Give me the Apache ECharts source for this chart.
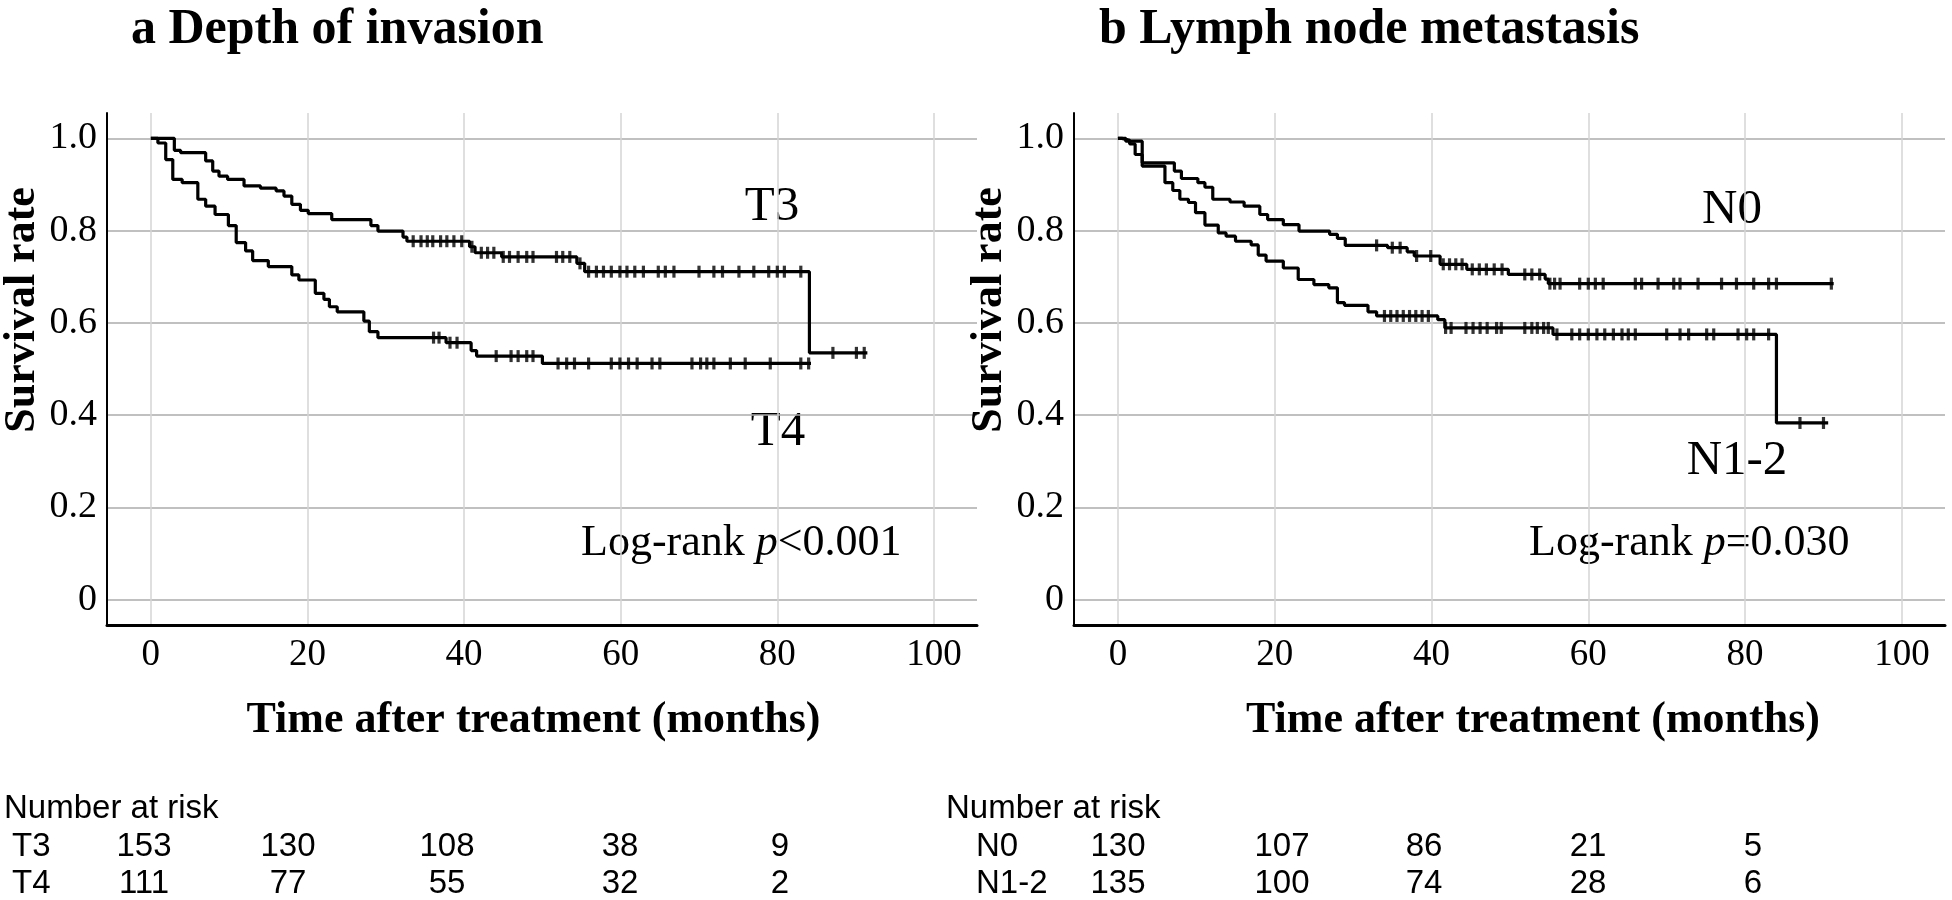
<!DOCTYPE html>
<html>
<head>
<meta charset="utf-8">
<script src="https://cdn.jsdelivr.net/npm/echarts@6/dist/echarts.min.js"></script>
<style>
html,body{margin:0;padding:0;background:#fff;}
#c{width:1952px;height:900px;}
</style>
</head>
<body>
<div id="c"></div>
<script>
// ---------------- DATA ----------------
const xTicks = [0, 20, 40, 60, 80, 100];
const yTicks = [0, 0.2, 0.4, 0.6, 0.8, 1.0];

// Kaplan-Meier step points [month, survival]
const stepsT3 = [[0,1.0],[3.0,0.974],[3.8,0.969],[7.0,0.951],[7.9,0.929],[8.7,0.918],[9.8,0.911],[11.9,0.897],[14.0,0.892],[16.0,0.886],[17.0,0.875],[18.0,0.857],[19.1,0.844],[20.1,0.837],[23.1,0.824],[28.1,0.811],[29.0,0.799],[32.2,0.786],[32.7,0.777],[40.7,0.765],[41.4,0.752],[44.8,0.743],[54.4,0.729],[55.4,0.711],[84.1,0.535]];
const endT3 = 91.5;
const censT3 = [33.5,34.5,35.3,36.0,37.0,37.8,38.7,39.7,41.0,42.2,43.0,43.8,45.0,45.8,46.9,48.0,48.8,51.8,52.6,53.5,54.8,55.9,56.9,57.8,58.8,59.9,60.8,61.8,62.9,64.8,65.7,66.8,70.0,71.9,73.0,75.1,77.0,78.9,80.0,80.9,83.0,87.1,90.1,91.1];

const stepsT4 = [[0,1.0],[0.9,0.99],[1.9,0.954],[2.8,0.911],[4.0,0.904],[6.0,0.868],[7.0,0.853],[8.2,0.835],[9.9,0.811],[10.9,0.774],[12.1,0.756],[13.0,0.735],[15.0,0.722],[18.0,0.704],[18.9,0.693],[21.0,0.664],[22.1,0.651],[22.8,0.635],[23.8,0.624],[27.2,0.604],[27.9,0.581],[29.0,0.568],[37.7,0.557],[40.9,0.540],[41.6,0.528],[50.0,0.512]];
const endT4 = 84.3;
const censT4 = [36.1,36.8,38.2,39.1,44.1,46.0,46.9,48.0,48.8,52.0,53.1,54.1,55.9,58.8,59.9,61.0,62.1,64.0,65.0,69.1,70.2,71.0,71.9,74.0,75.9,79.1,83.0,84.0];

const stepsN0 = [[0,1.0],[1.0,0.994],[3.1,0.947],[7.2,0.929],[8.1,0.913],[10.2,0.904],[11.1,0.894],[12.1,0.868],[14.3,0.862],[16.1,0.853],[18.1,0.835],[19.1,0.824],[21.1,0.813],[23.1,0.799],[27.0,0.792],[28.0,0.783],[29.0,0.768],[34.4,0.763],[36.9,0.754],[37.8,0.745],[41.1,0.727],[44.5,0.716],[49.8,0.705],[54.5,0.695],[54.9,0.685]];
const endN0 = 91.3;
const censN0 = [33.0,35.0,36.0,38.1,39.9,41.5,42.3,43.1,43.9,45.2,46.1,47.0,48.0,49.0,51.9,52.8,53.8,55.1,55.7,56.4,58.9,60.0,60.9,61.9,66.0,66.8,68.9,70.9,71.7,74.0,77.0,78.9,81.1,83.0,84.0,91.0];

const stepsN12 = [[0,1.0],[0.5,0.996],[1.5,0.988],[2.2,0.965],[3.1,0.94],[6.0,0.904],[7.0,0.887],[7.9,0.868],[9.0,0.861],[9.9,0.839],[11.1,0.812],[12.8,0.795],[13.8,0.788],[15.0,0.777],[17.0,0.769],[17.9,0.747],[18.9,0.734],[21.1,0.719],[23.0,0.694],[25.0,0.683],[26.9,0.676],[28.0,0.644],[28.9,0.638],[31.9,0.624],[33.0,0.615],[40.8,0.607],[41.7,0.589],[55.5,0.575],[84.0,0.383]];
const endN12 = 90.6;
const censN12 = [34.0,34.8,35.6,36.4,37.2,38.0,38.8,39.6,41.8,42.5,44.4,45.3,46.2,47.1,48.3,48.9,51.9,52.8,53.5,54.3,54.9,56.0,57.9,58.9,60.0,61.1,62.1,63.2,64.3,65.1,66.0,70.0,71.7,72.8,75.1,76.0,79.1,80.2,81.1,83.0,87.0,90.0];

// Number at risk
const riskLabelsA = ['T3', 'T4'];
const riskT3 = [153, 130, 108, 38, 9];
const riskT4 = [111, 77, 55, 32, 2];
const riskLabelsB = ['N0', 'N1-2'];
const riskN0 = [130, 107, 86, 21, 5];
const riskN12 = [135, 100, 74, 28, 6];

const titleA = 'a Depth of invasion';
const titleB = 'b Lymph node metastasis';
const xName = 'Time after treatment (months)';
const yName = 'Survival rate';
const pA = '<0.001';
const pB = '=0.030';

// ---------------- HELPERS ----------------
const SERIF = "'Liberation Serif','Times New Roman',serif";
const SANS = "'Liberation Sans',Arial,sans-serif";

function stepData(steps, end) {
  return steps.concat([[end, steps[steps.length - 1][1]]]);
}
function survAt(steps, t) {
  let s = steps[0][1];
  for (const [x, v] of steps) { if (x <= t) s = v; else break; }
  return s;
}
function censData(steps, cens) {
  return cens.map(t => [t, survAt(steps, t)]);
}

const xMin = -5.6, xMax = 105.5, yMin = -0.055, yMax = 1.055;

function xAxis(gi, pad) {
  return {
    type: 'value', gridIndex: gi, min: xMin, max: xMax,
    axisLine: { show: true, onZero: false, lineStyle: { color: '#000', width: 3 } },
    axisTick: { show: false, customValues: xTicks },
    axisLabel: { customValues: xTicks, fontFamily: SERIF, fontSize: 37, color: '#000', margin: 12 },
    splitLine: { show: true, lineStyle: { color: '#d4d4d4', width: 1.5 } },
    name: xName, nameLocation: 'middle', nameGap: 74,
    nameTextStyle: { fontFamily: SERIF, fontWeight: 'bold', fontSize: 44, color: '#000', padding: pad }
  };
}
function yAxis(gi) {
  return {
    type: 'value', gridIndex: gi, min: yMin, max: yMax,
    axisLine: { show: true, onZero: false, lineStyle: { color: '#000', width: 2 } },
    axisTick: { show: false, customValues: yTicks },
    axisLabel: { customValues: yTicks, fontFamily: SERIF, fontSize: 38, color: '#000', margin: 10,
      formatter: v => (v === 0 ? '0' : v.toFixed(1)) },
    splitLine: { show: true, lineStyle: { color: '#ababab', width: 1.5 } },
    name: yName, nameLocation: 'middle', nameGap: 62,
    nameTextStyle: { fontFamily: SERIF, fontWeight: 'bold', fontSize: 44, color: '#000', padding: [0, 0, 0, 118] }
  };
}
function lineSeries(gi, steps, end) {
  return {
    type: 'line', xAxisIndex: gi, yAxisIndex: gi, step: 'end', showSymbol: false, symbol: 'none',
    data: stepData(steps, end), lineStyle: { color: '#000', width: 3.2 }, z: 3, silent: true
  };
}
function censSeries(gi, steps, cens) {
  return {
    type: 'scatter', xAxisIndex: gi, yAxisIndex: gi, symbol: 'rect', symbolSize: [3.2, 12],
    data: censData(steps, cens), itemStyle: { color: '#000' }, z: 4, silent: true
  };
}
function txt(x, y, text, size, opts) {
  opts = opts || {};
  return {
    type: 'text', x: x, y: y, silent: true,
    style: Object.assign({
      text: text, fill: '#000', fontSize: size, fontFamily: opts.family || SERIF,
      fontWeight: opts.weight || 'normal',
      align: opts.align || 'center', verticalAlign: 'middle',
      textAlign: opts.align || 'center', textVerticalAlign: 'middle'
    }, opts.extra || {})
  };
}
function logRank(x, y, p) {
  return {
    type: 'text', x: x, y: y, silent: true,
    style: {
      text: '{n|Log-rank }{i|p}{n|' + p + '}',
      align: 'left', verticalAlign: 'middle', textAlign: 'left', textVerticalAlign: 'middle',
      rich: {
        n: { fontFamily: SERIF, fontSize: 44, fill: '#000', color: '#000' },
        i: { fontFamily: SERIF, fontSize: 44, fontStyle: 'italic', fill: '#000', color: '#000' }
      }
    }
  };
}

// Risk table layout
const colsA = [144, 288, 447, 620, 780];
const colsB = [1118, 1282, 1424, 1588, 1753];
const rowY = [809, 847, 884];
const graphics = [];
function riskTable(left, labelX, cols, labels, rows) {
  graphics.push(txt(left, rowY[0], 'Number at risk', 33, { family: SANS, align: 'left' }));
  rows.forEach((vals, r) => {
    graphics.push(txt(labelX, rowY[r + 1], labels[r], 33, { family: SANS, align: 'left' }));
    vals.forEach((v, i) => graphics.push(txt(cols[i], rowY[r + 1], String(v), 33, { family: SANS })));
  });
}
riskTable(4, 12, colsA, riskLabelsA, [riskT3, riskT4]);
riskTable(946, 976, colsB, riskLabelsB, [riskN0, riskN12]);

graphics.push(txt(772, 207, 'T3', 49));
graphics.push(txt(778, 432, 'T4', 49));
graphics.push(txt(1732, 210, 'N0', 49));
graphics.push(txt(1737, 461, 'N1-2', 49));
graphics.push(logRank(581, 543, pA));
graphics.push(logRank(1529, 543, pB));

const option = {
  animation: false,
  backgroundColor: '#fff',
  title: [
    { text: titleA, left: 126, top: 0, textStyle: { fontFamily: SERIF, fontWeight: 'bold', fontSize: 50, color: '#000' } },
    { text: titleB, left: 1094, top: 0, textStyle: { fontFamily: SERIF, fontWeight: 'bold', fontSize: 50, color: '#000' } }
  ],
  grid: [
    { left: 106, top: 113, width: 871, height: 512, containLabel: false },
    { left: 1074, top: 113, width: 871, height: 512, containLabel: false }
  ],
  xAxis: [xAxis(0, [0, 17, 0, 0]), xAxis(1, [0, 0, 0, 47])],
  yAxis: [yAxis(0), yAxis(1)],
  series: [
    lineSeries(0, stepsT3, endT3), censSeries(0, stepsT3, censT3),
    lineSeries(0, stepsT4, endT4), censSeries(0, stepsT4, censT4),
    lineSeries(1, stepsN0, endN0), censSeries(1, stepsN0, censN0),
    lineSeries(1, stepsN12, endN12), censSeries(1, stepsN12, censN12)
  ],
  graphic: { elements: graphics }
};

const chart = echarts.init(document.getElementById('c'), null, { renderer: 'canvas' });
chart.setOption(option);
</script>
</body>
</html>
